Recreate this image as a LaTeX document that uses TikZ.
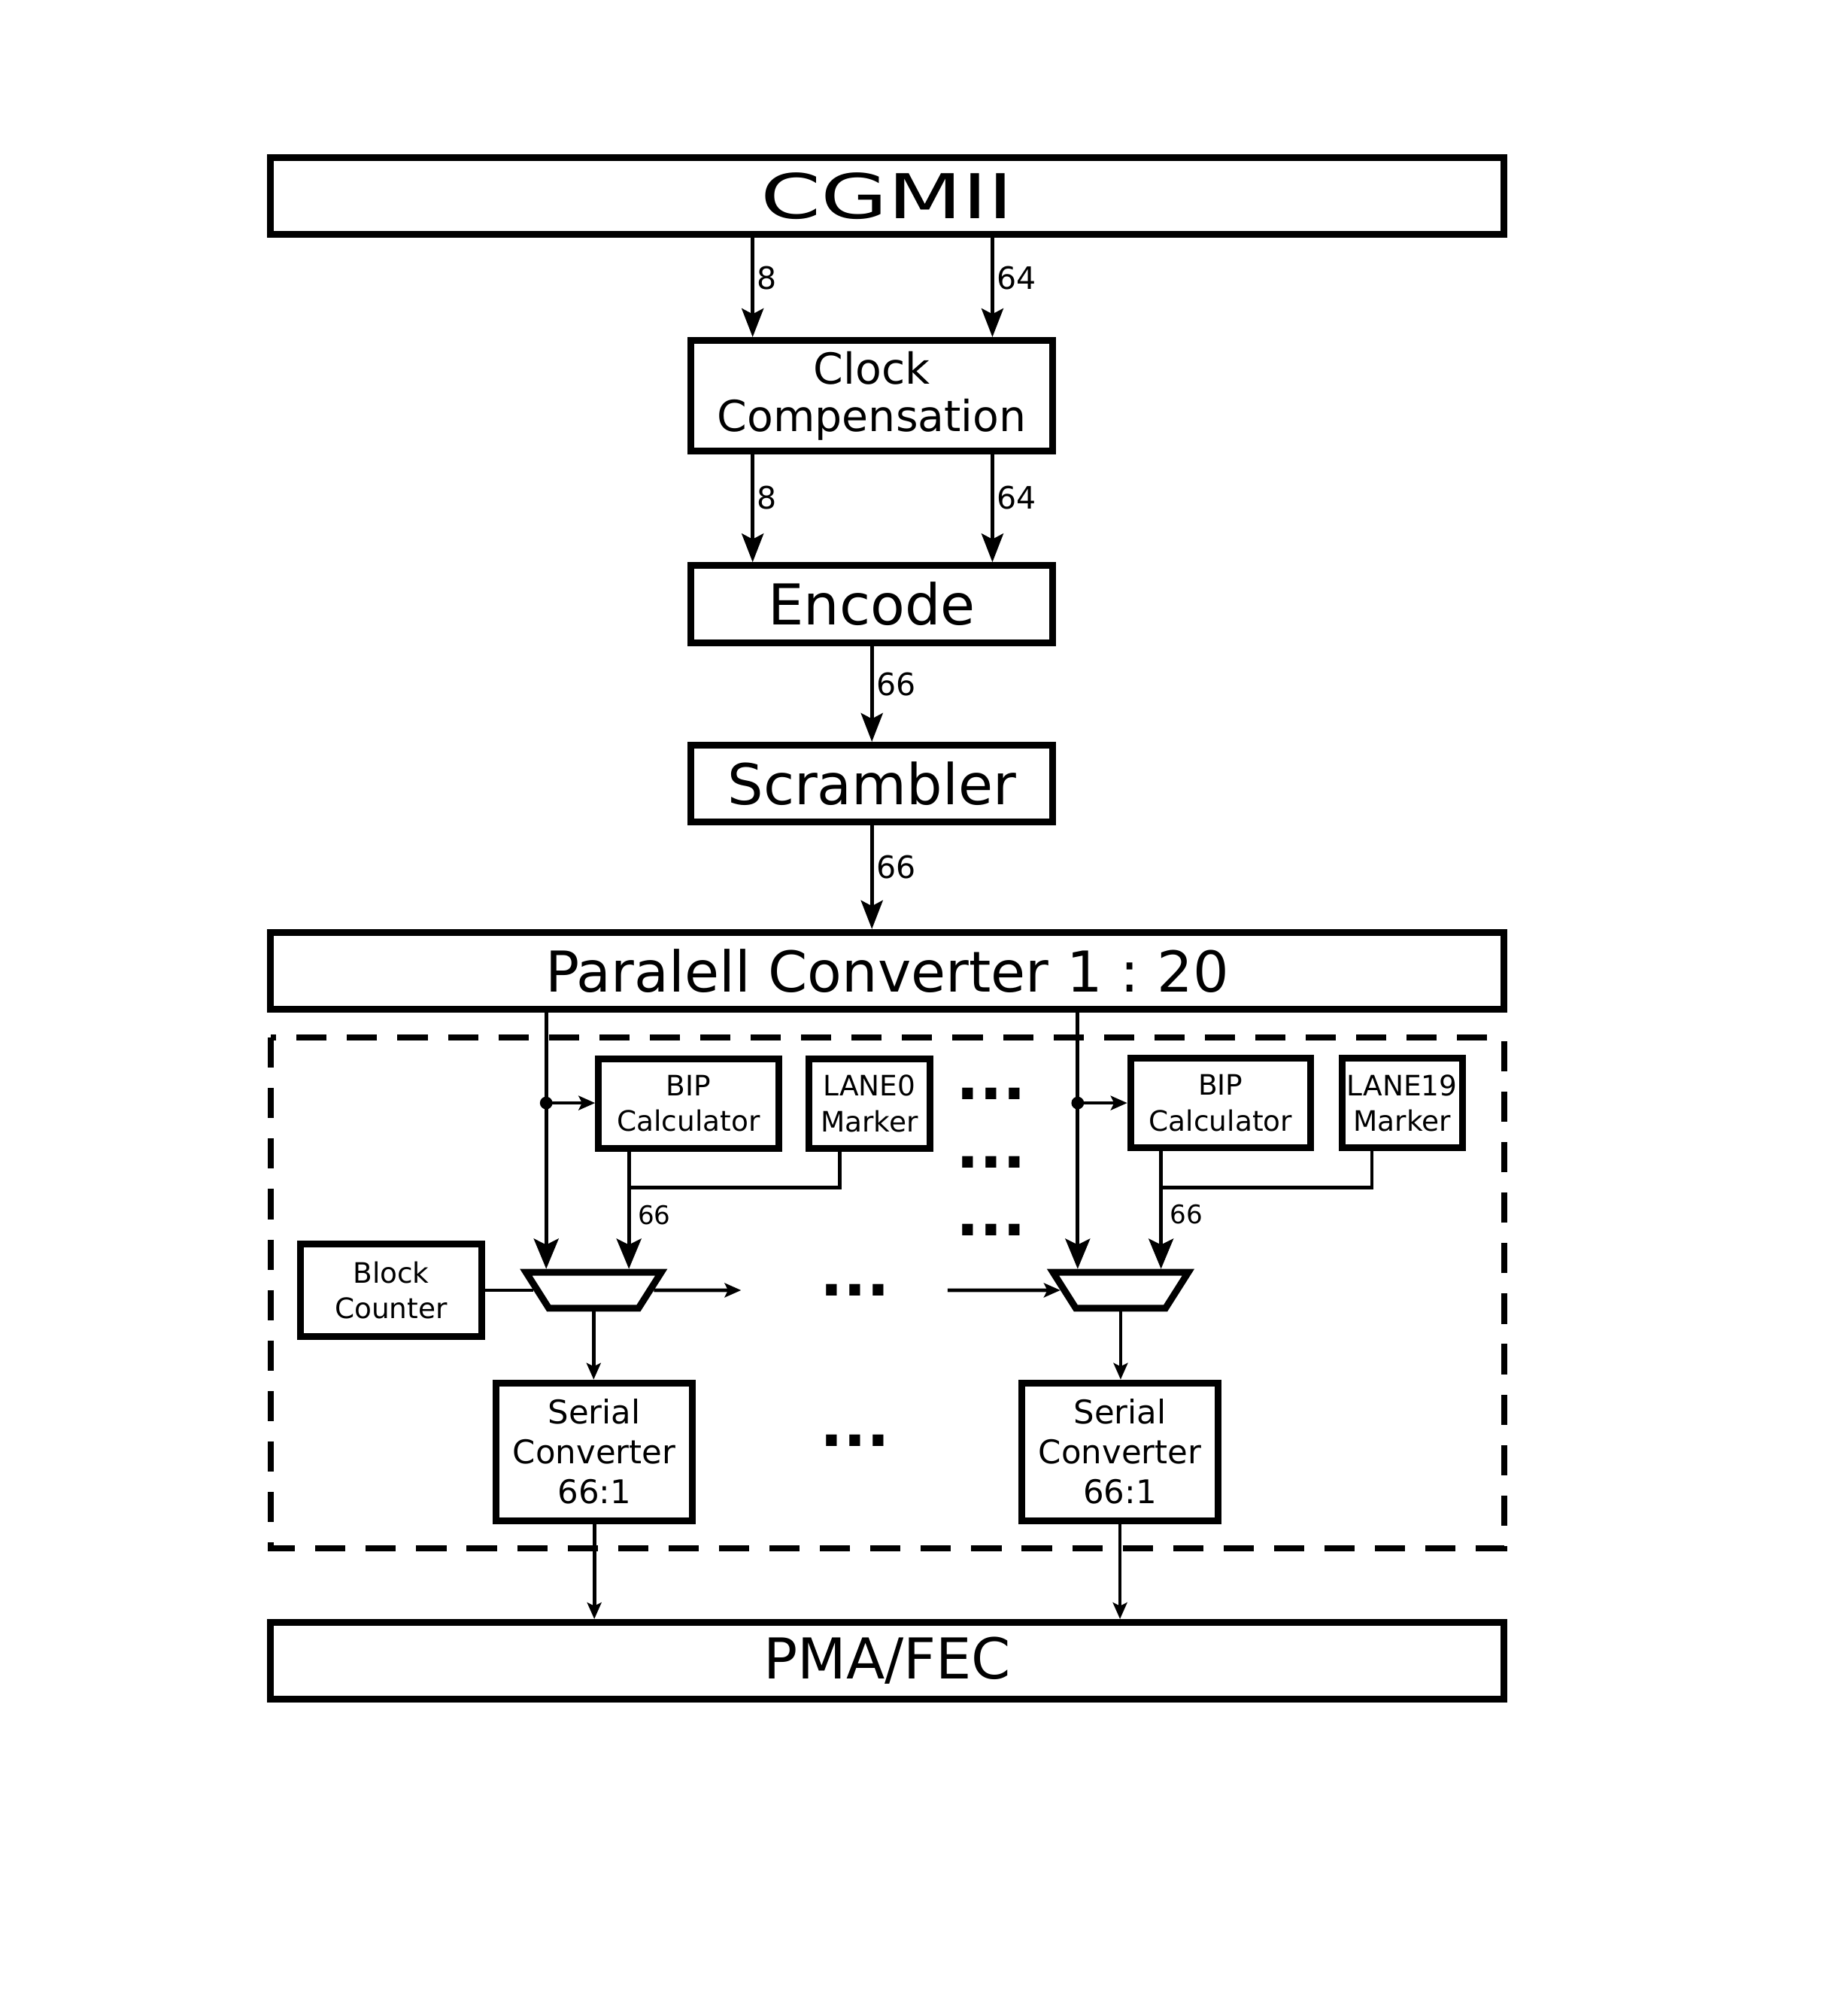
\documentclass[tikz,border=0pt]{standalone}
\usepackage{fontspec}
\setmainfont{DejaVu Sans}
\newfontfamily\widefont[FakeStretch=1.4]{DejaVu Sans}
\usetikzlibrary{arrows.meta,shapes.geometric}
\begin{document}
\frenchspacing
\begin{tikzpicture}[x=0.02cm,y=-0.02cm,every node/.style={black},
  box/.style={draw,line width=3pt,inner sep=0pt,align=center},
  widebox/.style={box,minimum width=19.24cm,minimum height=1.2cm,font=\fontsize{25}{30}\selectfont},
  stagebox/.style={box,minimum width=5.64cm,minimum height=1.2cm,font=\fontsize{25}{30}\selectfont},
  smallbox/.style={box,minimum height=1.39cm,font=\fontsize{12.5}{15.8}\selectfont},
  serialbox/.style={box,minimum width=3.07cm,minimum height=2.15cm,font=\fontsize{14.5}{17.7}\selectfont},
  muxshape/.style={draw,line width=3pt,trapezium,trapezium angle=57.6,shape border rotate=180,
    text width=1.4cm,text height=0.56cm,text depth=0pt,inner sep=0pt},
  wire/.style={line width=1.6pt},
  fatarrow/.style={wire,-{Stealth[length=12.7pt,width=9.7pt,inset=2.5pt]}},
  muxarrow/.style={wire,-{Stealth[length=13.4pt,width=11pt,inset=2.7pt]}},
  thinarrow/.style={wire,-{Stealth[length=7.3pt,width=6.3pt,inset=1.5pt]}},
  buswidth/.style={anchor=west,inner sep=1.2pt,pos=0.4,font=\fontsize{13.7}{16}\selectfont},
  buswidthlow/.style={anchor=west,inner sep=0pt,xshift=3.2pt,pos=0.54,font=\fontsize{11.4}{14}\selectfont},
  ellipsis/.style={inner sep=0pt,font=\bfseries\fontsize{27}{32}\selectfont}]
  \useasboundingbox (0,0) rectangle (1441,1568);
  % upper chain
  \node [widebox,font=\widefont\fontsize{27.4}{32}\selectfont] (cgmii) at (692,153) {CGMII};
  \node [stagebox,minimum height=1.73cm,font=\fontsize{19}{21.3}\selectfont] (clock) at (680,308.7) {Clock\\Compensation};
  \node [stagebox] (encode) at (680,471) {Encode};
  \node [stagebox] (scrambler) at (680,611) {Scrambler};
  \node [widebox] (parconv) at (692,757) {Paralell Converter 1 : 20};
  \node [widebox] (pma) at (692,1295) {PMA/FEC};
  \coordinate (c8) at (587,0);
  \coordinate (c64) at (774,0);
  \draw [fatarrow] (cgmii.south -| c8) -- node[buswidth] {8} (clock.north -| c8);
  \draw [fatarrow] (cgmii.south -| c64) -- node[buswidth] {64} (clock.north -| c64);
  \draw [fatarrow] (clock.south -| c8) -- node[buswidth] {8} (encode.north -| c8);
  \draw [fatarrow] (clock.south -| c64) -- node[buswidth] {64} (encode.north -| c64);
  \draw [fatarrow] (encode.south) -- node[buswidth] {66} (scrambler.north);
  \draw [fatarrow] (scrambler.south) -- node[buswidth] {66} (scrambler.south |- parconv.north);
  % lanes
  \draw [line width=2.7pt,dash pattern=on 13.4pt off 9pt] (211,809) rectangle (1173,1207);
  \node [smallbox,minimum width=2.81cm] (bip1) at (537,860.5) {BIP\\Calculator};
  \node [smallbox,minimum width=1.89cm] (lane0) at (678,860.5) {LANE0\\Marker};
  \node [smallbox,minimum width=2.81cm] (bip2) at (952,860) {BIP\\Calculator};
  \node [smallbox,minimum width=1.88cm] (lane19) at (1093.5,860) {LANE19\\Marker};
  \node [smallbox,minimum width=2.83cm,minimum height=1.44cm] (counter) at (305,1006) {Block\\Counter};
  \node [muxshape] (mux1) at (463,1006) {};
  \node [muxshape] (mux2) at (874,1006) {};
  \node [serialbox] (ser1) at (463.5,1132) {Serial\\Converter\\66:1};
  \node [serialbox] (ser2) at (873.5,1132) {Serial\\Converter\\66:1};
  \node [ellipsis] (dotsa) at (773,853) {...};
  \node [ellipsis] (dotsb) at (773,906) {...};
  \node [ellipsis] (dotsc) at (773,959) {...};
  \node [ellipsis] (dotsd) at (667,1006) {...};
  \node [ellipsis] (dotse) at (667,1123) {...};
  \coordinate (p1) at (426,860);
  \coordinate (p2) at (840.5,860);
  \coordinate (b1) at (490.5,926);
  \coordinate (b2) at (905.5,926);
  \coordinate (m1) at (655,926);
  \coordinate (m2) at (1070,926);
  \draw [muxarrow] (parconv.south -| p1) -- (mux1.north -| p1);
  \draw [muxarrow] (parconv.south -| p2) -- (mux2.north -| p2);
  \fill (p1) circle [radius=2.8pt];
  \fill (p2) circle [radius=2.8pt];
  \draw [thinarrow] (p1) -- (p1 -| bip1.west);
  \draw [thinarrow] (p2) -- (p2 -| bip2.west);
  \draw [muxarrow] (bip1.south -| b1) -- node[buswidthlow] {66} (mux1.north -| b1);
  \draw [muxarrow] (bip2.south -| b2) -- node[buswidthlow] {66} (mux2.north -| b2);
  \draw [wire] (lane0.south -| m1) -- (m1) -- (b1);
  \draw [wire] (lane19.south -| m2) -- (m2) -- (b2);
  \coordinate (gap1) at (578,1006);
  \coordinate (gap2) at (739,1006);
  \draw [wire] (counter.east) -- (counter.east -| mux1.west);
  \draw [thinarrow] (mux1.east) -- (gap1);
  \draw [thinarrow] (gap2) -- (mux2.west);
  \draw [thinarrow] (mux1.south) -- (mux1.south |- ser1.north);
  \draw [thinarrow] (mux2.south) -- (mux2.south |- ser2.north);
  \draw [thinarrow] (ser1.south) -- (ser1.south |- pma.north);
  \draw [thinarrow] (ser2.south) -- (ser2.south |- pma.north);
\end{tikzpicture}
\end{document}
